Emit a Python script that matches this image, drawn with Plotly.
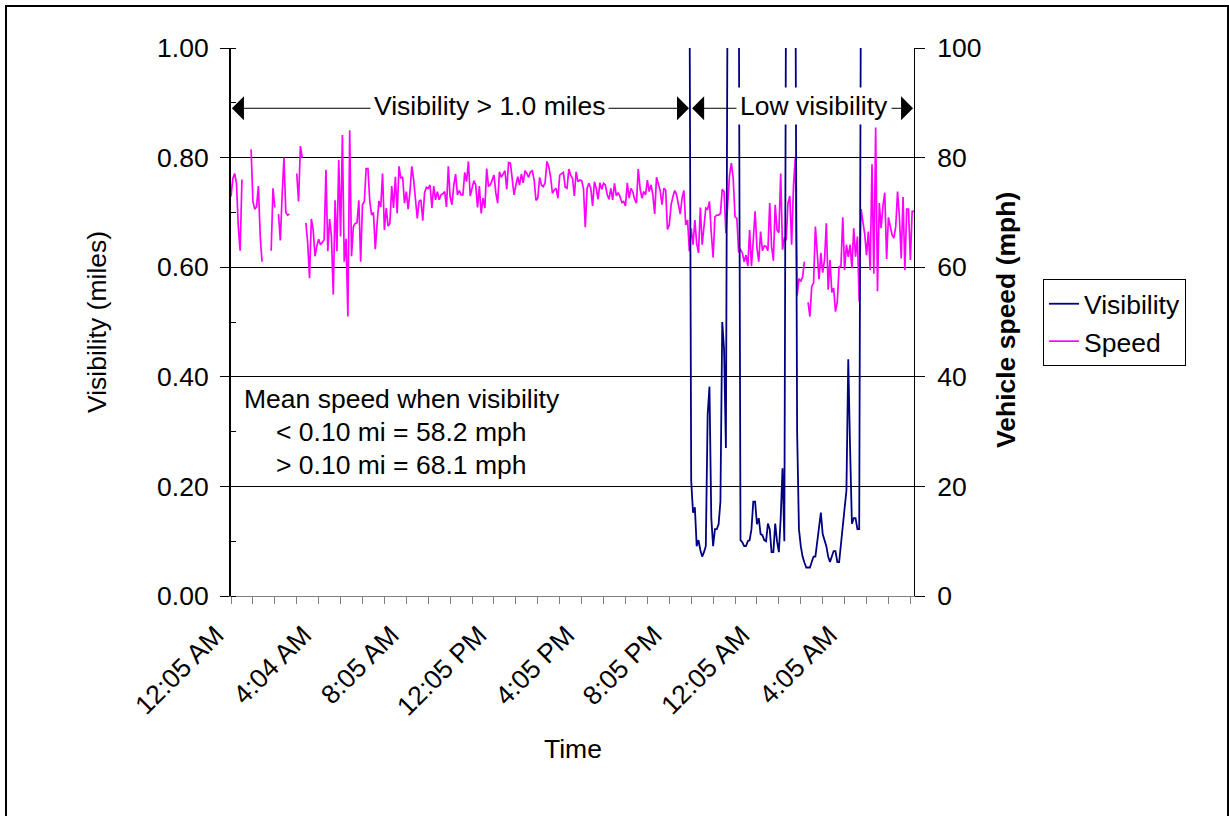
import plotly.graph_objects as go

# ---------------- data (5-minute categories) ----------------
time_labels = ["12:05 AM", "4:04 AM", "8:05 AM", "12:05 PM",
               "4:05 PM", "8:05 PM", "12:05 AM", "4:05 AM"]

speed_part1 = [
    72.9, 76.2, 77.1, 75.3, 67.4, 63.0, 76.0, None, None, None,
    None, 81.5, 72.0, 70.6, 71.0, 74.8, 65.6, 61.0, None, None,
    None, None, 63.0, 74.4, 70.9, None, 69.7, 64.9, 73.0, 80.0,
    70.0, 69.5, 69.7, None, None, None, 77.1, 72.0, 82.1, 80.0,
    None, 68.1, 64.4, 58.0, 68.8, 66.8, 62.0, 63.9, 65.1, 64.1,
    64.5, 65.0, 77.8, 62.9, 68.8, 65.6, 55.0, 72.2, 62.9, 79.6,
    65.6, 84.1, 61.0, 65.2, 51.0, 85.0, 62.0, 67.4, 68.0, 68.1,
    72.2, 61.0, 71.4, 72.0, 78.0, 78.0, 72.0, 69.5, 70.0, 63.3,
    68.0, 72.1, 71.0, 77.1, 66.8, 70.8, 67.5, 68.0, 74.8, 70.8,
    76.5, 69.8, 78.4, 76.2, 76.5,
]
speed_part2 = [
    71.7, 73.8, 70.6, 73.8, 78.4, 76.0, 72.6, 68.9, 72.0, 72.3,
    68.5, 73.6, 74.6, 74.4, 75.0, 70.8, 74.8, 72.3, 73.8, 72.3,
    73.2, 73.4, 73.8, 71.0, 78.4, 72.8, 71.4, 75.0, 77.0, 73.2,
    74.0, 73.2, 73.2, 77.3, 75.6, 79.3, 73.0, 74.7, 75.8, 75.0,
    70.9, 74.8, 69.8, 72.6, 70.8, 78.0, 74.8, 75.0, 76.0, 76.8,
    73.6, 71.7, 77.4, 76.4, 77.0, 77.6, 74.2, 79.1, 79.0, 76.2,
    73.2, 75.0, 76.5, 75.0, 77.0, 75.4, 77.6, 77.1, 76.4, 77.4,
    77.6, 75.9, 72.2, 72.6, 76.4, 75.0, 74.7, 75.4, 79.3, 78.4,
    76.5, 73.5, 74.1, 74.4, 72.6, 76.8, 77.0, 77.3, 74.6, 74.4,
    77.9, 76.8, 76.2, 73.0,
]
speed_part3 = [
    77.4, 75.6, 75.9, 75.8, 74.4, 67.3, 74.4, 75.3, 74.4, 71.2,
    75.6, 74.4, 72.4, 75.4, 74.2, 75.3, 75.0, 73.2, 72.4, 74.4,
    72.3, 75.3, 73.0, 73.6, 72.9, 71.8, 72.0, 71.2, 75.4, 72.6,
    74.4, 73.8, 72.4, 71.7, 77.9, 74.4, 72.6, 73.8, 73.2, 75.9,
    73.8, 75.0, 73.2, 69.7, 76.4, 75.2, 74.0, 71.4, 74.4, 74.1,
    66.9, 67.7, 71.4, 72.9, 74.0, 73.2, 71.0, 69.7, 72.6, 74.0,
    67.7, 68.6, 62.9, 67.1, 64.1, 68.6, 64.3, 62.6, 70.9, 64.1,
    67.4, 70.8, 70.6, 72.0, 66.2, 61.8, 69.2, 69.5, 69.5, 69.8,
    74.2, 73.8, 66.2, 72.6, 76.8, 79.0, 76.2, 69.2, 68.9, 62.7,
    63.2, 62.6, 61.0,
]
speed_part4 = [
    62.2, 60.2, 66.8, 60.2, 65.0, 70.2, 63.5, 61.0, 66.5, 63.0,
    63.9, 63.8, 63.0, 71.7, 63.8, 61.2, 71.4, 66.8, 66.3, 77.1,
    63.2, 65.3, 65.1, 71.7, 73.0, 64.1, 74.8, 80.0, 54.8, 57.9,
    57.4, 58.2, 61.0, None, 53.6, 51.0, 56.5, 57.1, 67.4, 62.6,
    57.8, 62.6, 59.0, 61.3, 68.0, 55.9, 61.3, 55.4, 56.2, 51.9,
    53.7, 60.1, 60.2, 69.1, 59.5, 64.1, 61.9, 64.1, 59.8, 67.1,
    61.9, 65.6, 53.7, 70.6, 68.3, 66.1, 62.2, 66.5, 59.5, 78.8,
    58.8, 85.5, 55.6, 71.7, 67.1, 71.2, 73.6, 61.5, 69.1, 67.5,
    65.9, 65.3, 67.4, 73.8, 69.2, 61.6, 72.8, 59.5, 70.6, 70.6,
    61.3, 70.2, 70.2,
]
speed = speed_part1 + speed_part2 + speed_part3 + speed_part4

# visibility (miles) during the low-visibility window; values above 1.0 are off scale
vis_start = 251
visibility = [
    1.2, 0.21, 0.152, 0.162, 0.091, 0.102, 0.084, 0.072, 0.08, 0.091,
    0.33, 0.382, 0.142, 0.091, 0.122, 0.122, 0.131, 0.172, 0.50, 0.45,
    0.27, 1.2, 1.2, 1.2, 1.2, 1.2, 1.2, 1.2, 0.102, 0.098,
    0.091, 0.091, 0.1, 0.102, 0.122, 0.172, 0.172, 0.131, 0.142, 0.113,
    0.111, 0.102, 0.1, 0.132, 0.122, 0.08, 0.08, 0.132, 0.1, 0.08,
    0.142, 0.233, 0.1, 1.2, 1.2, 1.2, 1.2, 1.2, 1.2, 0.30,
    0.122, 0.091, 0.072, 0.061, 0.052, 0.052, 0.052, 0.062, 0.072, 0.072,
    0.102, 0.12, 0.152, 0.113, 0.1, 0.091, 0.072, 0.062, 0.072, 0.082,
    0.082, 0.062, 0.062, 0.091, 0.132, 0.16, 0.192, 0.432, 0.27, 0.132,
    0.142, 0.142, 0.122, 0.122, 1.2,
]

# ---------------- figure ----------------
FONT = "Liberation Sans, Arial, sans-serif"
FS = 26.5
W, H = 1229, 816
L, R, T, B = 231, 315, 48, 220
PW, PH = W - L - R, H - T - B


def px(xp):
    return (xp - L) / PW


def py(yp):
    return (H - B - yp) / PH


x_speed = list(range(len(speed)))
x_vis = list(range(vis_start, vis_start + len(visibility)))

tickvals = list(range(0, len(speed), 12))
ticktext = [time_labels[k // 4] if k % 4 == 0 else "" for k in range(len(tickvals))]

fig = go.Figure()
fig.add_trace(go.Scatter(
    x=x_speed, y=speed, name="Speed", mode="lines", yaxis="y",
    line=dict(color="#FF00FF", width=1.7), connectgaps=False, legendrank=2,
))
fig.add_trace(go.Scatter(
    x=x_vis, y=visibility, name="Visibility", mode="lines", yaxis="y2",
    line=dict(color="#000080", width=1.8), legendrank=1,
))

arrow_y = 89.0
arrow_common = dict(xref="x", yref="y", axref="x", ayref="y", showarrow=True,
                    arrowhead=1, arrowsize=4, arrowwidth=1, arrowcolor="black",
                    text="", standoff=0, startstandoff=0)
txt = dict(showarrow=False, xanchor="center", yanchor="middle")
annotations = [
    dict(x=0.5, y=arrow_y, ax=140, ay=arrow_y, **arrow_common),
    dict(x=250.8, y=arrow_y, ax=140, ay=arrow_y, **arrow_common),
    dict(x=252.5, y=arrow_y, ax=320, ay=arrow_y, **arrow_common),
    dict(x=373.5, y=arrow_y, ax=320, ay=arrow_y, **arrow_common),
    dict(text="Visibility &gt; 1.0 miles", x=141.3, y=89.4, xref="x", yref="y",
         bgcolor="white", borderpad=3, **txt),
    dict(text="Low visibility", x=319, y=89.4, xref="x", yref="y",
         bgcolor="white", borderpad=3, **txt),
    dict(text="Mean speed when visibility", x=px(242), y=py(399), xref="paper",
         yref="paper", showarrow=False, xanchor="left", yanchor="middle"),
    dict(text="&lt; 0.10 mi = 58.2 mph", x=px(274), y=py(432), xref="paper",
         yref="paper", showarrow=False, xanchor="left", yanchor="middle"),
    dict(text="&gt; 0.10 mi = 68.1 mph", x=px(274), y=py(465), xref="paper",
         yref="paper", showarrow=False, xanchor="left", yanchor="middle"),
    dict(text="Visibility (miles)", x=px(97), y=py(322), xref="paper", yref="paper",
         textangle=-90, **txt),
    dict(text="<b>Vehicle speed (mph)</b>", x=px(1006), y=py(320), xref="paper",
         yref="paper", textangle=-90, **txt),
    dict(text="Time", x=px(573), y=py(749), xref="paper", yref="paper", **txt),
]

fig.update_layout(
    width=W, height=H, autosize=False,
    margin=dict(l=L, r=R, t=T, b=B, pad=0),
    paper_bgcolor="white", plot_bgcolor="white",
    font=dict(family=FONT, size=FS, color="black"),
    showlegend=True,
    legend=dict(x=px(1043), y=py(279), xanchor="left", yanchor="top",
                bordercolor="black", borderwidth=1, bgcolor="white",
                font=dict(size=FS), tracegroupgap=0),
    xaxis=dict(range=[0, len(speed) - 1], tickmode="array", tickvals=tickvals,
               ticktext=ticktext, tickangle=-45, ticks="outside", ticklen=7,
               tickcolor="#808080", showline=True, linecolor="#808080",
               linewidth=1, showgrid=False, zeroline=False,
               ticklabelstandoff=5, ticklabelshift=-15),
    yaxis=dict(range=[0, 100], tickmode="linear", tick0=0, dtick=20, side="right",
               showgrid=True, gridcolor="black", gridwidth=1, showline=True,
               linecolor="black", linewidth=1, ticks="outside", ticklen=10,
               tickcolor="black", zeroline=False, ticklabelstandoff=7),
    yaxis2=dict(range=[0, 1], overlaying="y", side="left", tickmode="linear",
                tick0=0, dtick=0.2, tickformat=".2f", showgrid=False,
                showline=True, linecolor="black", linewidth=2, ticks="outside",
                ticklen=9, tickcolor="black", zeroline=False,
                ticklabelstandoff=6,
                minor=dict(dtick=0.1, ticks="inside", ticklen=5,
                           tickcolor="black", showgrid=False)),
    annotations=annotations,
    shapes=[dict(type="rect", xref="paper", yref="paper",
                 x0=px(6), x1=px(1228), y0=py(840), y1=py(6),
                 line=dict(color="black", width=2), fillcolor="rgba(0,0,0,0)")],
)

fig.write_html("out.html")
